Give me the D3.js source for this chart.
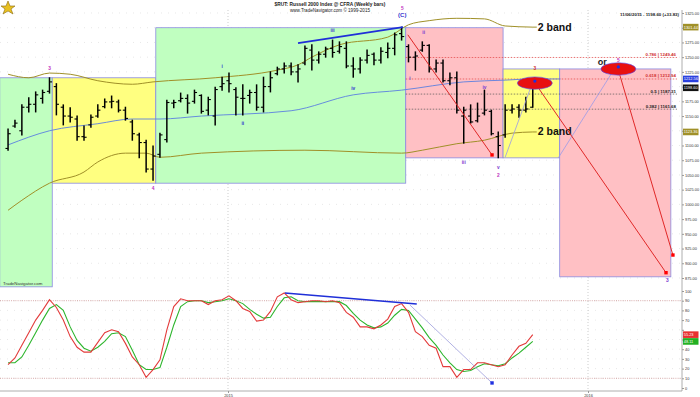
<!DOCTYPE html>
<html>
<head>
<meta charset="utf-8">
<script src="https://cdnjs.cloudflare.com/ajax/libs/d3/7.8.5/d3.min.js"></script>
<style>
body{margin:0;background:#fff}
svg{display:block;font-family:"Liberation Sans",Arial,sans-serif}
</style>
</head>
<body>
<svg id="chart" width="700" height="397"></svg>
<script>
// weekly bars, first bar = week ending 2014-05-23
firstWeek = "2014-05-23";
opens  = [1095,1133,1125,1165,1170,1180,1192,1200,1165,1150,1145,1115,1135,1150,1166,1174,1174,1160,1140,1118,1105,1060,1085,1110,1172,1176,1180,1175,1185,1160,1150,1200,1210,1195,1180,1185,1190,1165,1200,1222,1230,1235,1225,1240,1262,1245,1255,1265,1260,1265,1235,1230,1245,1255,1245,1258,1265,1290,1268,1250,1262,1270,1230,1240,1210,1215,1150,1150,1142,1155,1158,1115,1118,1160,1165,1160,1165];
highs  = [1128,1143,1169,1181,1191,1194,1215,1205,1169,1164,1150,1133,1152,1169,1179,1184,1177,1165,1143,1121,1109,1099,1121,1177,1177,1189,1186,1194,1186,1182,1199,1216,1223,1198,1203,1194,1203,1216,1225,1233,1240,1240,1237,1269,1271,1259,1267,1279,1276,1276,1249,1249,1262,1257,1266,1274,1291,1301,1271,1259,1276,1271,1245,1245,1223,1225,1165,1169,1172,1194,1160,1123,1169,1169,1169,1182,1199];
lows   = [1092,1131,1118,1157,1157,1172,1189,1152,1135,1140,1109,1109,1131,1148,1164,1164,1157,1143,1109,1079,1055,1041,1080,1106,1164,1174,1155,1172,1155,1152,1135,1194,1191,1152,1152,1172,1160,1157,1191,1220,1223,1220,1208,1237,1228,1240,1250,1250,1257,1232,1216,1223,1240,1237,1240,1249,1254,1279,1242,1228,1260,1225,1225,1208,1203,1155,1104,1138,1140,1152,1118,1079,1114,1155,1148,1157,1165];
closes = [1120,1138,1165,1170,1186,1190,1208,1170,1150,1148,1115,1114,1148,1160,1174,1175,1160,1146,1120,1105,1060,1082,1118,1173,1173,1180,1172,1190,1158,1178,1195,1205,1205,1182,1180,1190,1165,1200,1215,1230,1235,1225,1230,1265,1245,1255,1264,1258,1268,1235,1230,1245,1253,1245,1260,1265,1288,1285,1250,1252,1270,1230,1240,1210,1215,1160,1160,1140,1150,1160,1120,1100,1160,1162,1160,1162,1198];

// slow stochastic (%K red, %D green)
stochK = [24,31,44,57,70,80,91,83,70,53,42,37,37,47,57,60,58,46,32,24,11,19,29,60,84,92,90,90,90,86,90,91,95,90,82,79,69,70,79,94,98,91,88,89,90,90,89,90,88,78,73,63,63,61,65,71,84,87,78,58,53,44,41,22,22,11,19,19,26,26,24,22,24,34,43,46,55];
stochD = [26,26,32,44,57,70,82,86,80,63,49,41,38,42,48,56,57,53,39,24,19,19,21,42,65,84,89,90,90,88,89,90,92,90,87,81,76,72,73,84,93,94,90,89,89,89,89,89,89,85,77,70,65,62,63,67,75,81,80,71,62,52,44,34,26,19,17,18,22,25,24,23,25,31,36,42,48];

// moving average and bands, [week index, price]
maPts    = [[0,1101],[6,1125],[13,1137],[18,1145],[22,1145],[28,1150],[41,1159],[50,1186],[57,1194],[66,1208],[72,1211],[76,1213],[80,1213]];
upperPts = [[0,1221],[3,1215],[6,1223],[9,1221],[13,1210],[18,1204],[21,1208],[30,1215],[39,1228],[42,1237],[44,1250],[48,1271],[55,1284],[58,1305],[61,1312],[65,1316],[69,1315],[72,1303],[76,1301]];
lowerPts = [[0,990],[2,1007],[6,1036],[11,1055],[13,1072],[17,1087],[20,1087],[22,1080],[28,1087],[43,1092],[57,1087],[60,1092],[65,1103],[69,1109],[73,1121],[76,1123]];

// wave boxes: [from week, to week, top price, bottom price, kind]
waveBoxes = [[-1.2,6.4,1215,860,"g"],[6.4,21.4,1215,1036,"y"],[21.4,57.6,1300,1036,"g"],[57.6,71.7,1300,1079,"p"],[71.7,79.9,1230,1079,"y"],[79.9,96,1230,877,"p"]];

fibLevels = [0.786,0.618,0.5,0.382];
fibPrices = [1249.46,1212.94,1187.31,1161.68];

priceTicks = d3.range(875,1326,25);
stochTicks = d3.range(0,101,10);
yearTicks  = ["2015-01-01","2016-01-01"];

BOXFILL={g:"#c0ffc0",y:"#ffff80",p:"#ffc0c4"}
RIGHT=682
FS="3.9px"

svg = d3.select("#chart");
parse = d3.timeParse("%Y-%m-%d");
d0 = parse(firstWeek);
function wk(w){ return new Date(d0.getTime()+w*7*864e5) }

x = d3.scaleTime().domain(yearTicks.map(parse)).range([228,588]);
y = d3.scaleLinear().domain([875,1325]).range([278,13]);
ys = d3.scaleLinear().domain([0,100]).range([388,291]);
xw = function(w){ return x(wk(w)) }

bars = opens.map(function(o,i){ return {i:i,o:o,h:highs[i],l:lows[i],c:closes[i]} })

svg.append("rect").attr("width",700).attr("height",397).attr("fill","#fff")

// grid
svg.append("g").selectAll("line").data(priceTicks).enter().append("line")
  .attr("x1",0).attr("x2",RIGHT).attr("y1",d=>y(d)).attr("y2",d=>y(d))
  .attr("stroke","#d8d8d8").attr("stroke-width",0.6).attr("stroke-dasharray","1,6")
svg.append("g").selectAll("line").data(stochTicks.slice(1,10)).enter().append("line")
  .attr("x1",0).attr("x2",RIGHT).attr("y1",d=>ys(d)).attr("y2",d=>ys(d))
  .attr("stroke","#d8d8d8").attr("stroke-width",0.6).attr("stroke-dasharray","1,6")
svg.append("g").selectAll("line").data(yearTicks).enter().append("line")
  .attr("x1",d=>x(parse(d))).attr("x2",d=>x(parse(d))).attr("y1",10).attr("y2",391)
  .attr("stroke","#b8b8b8").attr("stroke-width",0.7).attr("stroke-dasharray","1,2")

// wave boxes
svg.append("g").selectAll("rect").data(waveBoxes).enter().append("rect")
  .attr("x",d=>xw(d[0])).attr("width",d=>xw(d[1])-xw(d[0]))
  .attr("y",d=>y(d[2])).attr("height",d=>y(d[3])-y(d[2]))
  .attr("fill",d=>BOXFILL[d[4]]).attr("stroke","#8a8ae0").attr("stroke-width",0.8)

// fib lines
fibPrices.forEach(function(p,k){
    var col = k<2 ? "#e04040" : "#555"
    svg.append("line").attr("x1",xw(57.6)).attr("x2",RIGHT-5).attr("y1",y(p)).attr("y2",y(p))
      .attr("stroke",col).attr("stroke-width",0.7).attr("stroke-dasharray","1.5,1.5")
    svg.append("text").attr("x",RIGHT-6).attr("y",y(p)-1.5).attr("text-anchor","end")
      .attr("font-size","4.4px").attr("font-weight","bold").attr("fill",k<2?"#d03030":"#222")
      .text(fibLevels[k]+" | "+p.toFixed(2))
})

// MA + bands
lineW = d3.line().x(d=>xw(d[0])).y(d=>y(d[1])).curve(d3.curveMonotoneX)
svg.append("path").attr("d",lineW(maPts)).attr("fill","none").attr("stroke","#5b7fe0").attr("stroke-width",0.9)
svg.append("path").attr("d",lineW(upperPts)).attr("fill","none").attr("stroke","#a09028").attr("stroke-width",1)
svg.append("path").attr("d",lineW(lowerPts)).attr("fill","none").attr("stroke","#a09028").attr("stroke-width",1)
// band tails to labels
;[upperPts,lowerPts].forEach(function(b){
    var last=b[b.length-1]
    svg.append("line").attr("x1",xw(last[0])).attr("x2",xw(last[0])+4).attr("y1",y(last[1])).attr("y2",y(last[1]))
      .attr("stroke","#a09028").attr("stroke-width",1)
    svg.append("text").attr("x",xw(last[0])+5).attr("y",y(last[1])+3.5)
      .attr("font-size","10.5px").attr("font-weight","bold").attr("fill","#111").text("2 band")
})

// OHLC bars
g_bars = svg.append("g").attr("stroke","#000").attr("stroke-width",1.5)
g_bars.selectAll("line.hl").data(bars).enter().append("line").attr("class","hl")
  .attr("x1",d=>xw(d.i)).attr("x2",d=>xw(d.i)).attr("y1",d=>y(d.h)-0.5).attr("y2",d=>y(d.l)+0.5)
g_bars.selectAll("line.o").data(bars).enter().append("line").attr("class","o")
  .attr("x1",d=>xw(d.i)-2.6).attr("x2",d=>xw(d.i)).attr("y1",d=>y(d.o)).attr("y2",d=>y(d.o)).attr("stroke-width",1.1)
g_bars.selectAll("line.c").data(bars).enter().append("line").attr("class","c")
  .attr("x1",d=>xw(d.i)).attr("x2",d=>xw(d.i)+2.6).attr("y1",d=>y(d.c)).attr("y2",d=>y(d.c)).attr("stroke-width",1.1)

// trend lines and projections
function seg(a,b,col,sw,yy){
    yy = yy||y
    svg.append("line").attr("x1",xw(a[0])).attr("y1",yy(a[1])).attr("x2",xw(b[0])).attr("y2",yy(b[1]))
      .attr("stroke",col).attr("stroke-width",sw)
}
function dot(p,col,yy){
    yy = yy||y
    svg.append("rect").attr("x",xw(p[0])-1.7).attr("y",yy(p[1])-1.7).attr("width",3.4).attr("height",3.4).attr("fill",col)
}
seg([42,1274],[57.2,1301],"#1f2fd8",1.8)
seg([57.9,1288],[70.1,1084],"#e02828",1)
dot([70.1,1084],"#ff0000")
seg([72,1080],[76,1208],"#9a9ae8",0.8)
seg([79.7,1079],[88.2,1237],"#9a9ae8",0.8)
seg([76.8,1198],[95.3,884],"#e02828",1)
dot([95.3,884],"#ff0000")
seg([88.6,1220],[96.3,914],"#e02828",1)
dot([96.3,914],"#ff0000")

// ellipses
;[[76.3,1206],[88.4,1230]].forEach(function(e){
    svg.append("ellipse").attr("cx",xw(e[0])).attr("cy",y(e[1])).attr("rx",17.5).attr("ry",6.2)
      .attr("fill","#e81010").attr("stroke","#5050ff").attr("stroke-width",0.6)
    svg.append("circle").attr("cx",xw(e[0])).attr("cy",y(e[1])-2).attr("r",1.6).attr("fill","#2030e0")
})
svg.append("text").attr("x",xw(85.4)).attr("y",y(1237)).attr("font-size","9px").attr("font-weight","bold").attr("fill","#222").text("or")

// wave labels [week, price, text, colour]
waveLabels = [[6,1228,"3","#c030c0"],[21,1024,"4","#c030c0"],[31,1232,"i","#3535d0"],[34,1135,"ii","#3535d0"],
  [47,1293,"iii","#3535d0"],[50,1194,"iv","#3535d0"],[57.1,1318,"(C)","#3535d0"],[57.1,1330,"5","#c030c0"],
  [58.2,1212,"i","#7a3ad0"],[60.2,1290,"ii","#7a3ad0"],[66,1068,"iii","#7a3ad0"],[69,1196,"iv","#7a3ad0"],
  [71,1060,"v","#7a3ad0"],[71,1046,"2","#c030c0"],[76.3,1228,"3","#d03030"],[88.4,1242,"5","#c030c0"],[95.5,869,"3","#7a3ad0"]]
svg.append("g").selectAll("text").data(waveLabels).enter().append("text")
  .attr("x",d=>xw(d[0])).attr("y",d=>y(d[1])).attr("text-anchor","middle")
  .attr("font-size",d=>d[2]=="(C)"?"6px":"4.8px").attr("font-weight","bold").attr("fill",d=>d[3]).text(d=>d[2])

svg.append("text").attr("x",3).attr("y",285).attr("font-size","4.4px").attr("fill","#333").text("TradeNavigator.com")

// stochastic
svg.append("g").selectAll("line").data([90,10]).enter().append("line")
  .attr("x1",0).attr("x2",RIGHT).attr("y1",d=>ys(d)).attr("y2",d=>ys(d))
  .attr("stroke","#c88a8a").attr("stroke-width",0.7).attr("stroke-dasharray","1,1.2")
lineS = d3.line().x((d,i)=>xw(i)).y(d=>ys(d))
svg.append("path").attr("d",lineS(stochD)).attr("fill","none").attr("stroke","#2cb52c").attr("stroke-width",1.1)
svg.append("path").attr("d",lineS(stochK)).attr("fill","none").attr("stroke","#e33a3a").attr("stroke-width",1.1)
seg([40.1,98],[59.2,86.6],"#1f2fd8",1.6,ys)
seg([58.2,85.6],[70.1,5.2],"#a8a8e0",0.9,ys)
dot([70.1,5.2],"#2030e0",ys)

// value flags on right axis
flags = [[y(1301),"1301.44","#a09028"],[y(1213),"1212.56","#2a40e0"],[y(closes[closes.length-1]),"1198.60","#111"],
  [y(1123),"1123.36","#a09028"],[ys(stochK[stochK.length-1]),"55.23","#e83030"],[ys(stochD[stochD.length-1]),"48.11","#22b022"]]

// axes
svg.append("line").attr("x1",RIGHT).attr("x2",RIGHT).attr("y1",10).attr("y2",391).attr("stroke","#999").attr("stroke-width",0.8)
svg.append("line").attr("x1",0).attr("x2",RIGHT).attr("y1",391).attr("y2",391).attr("stroke","#999").attr("stroke-width",0.8)
ax1 = svg.append("g").attr("transform","translate("+RIGHT+",0)")
  .call(d3.axisRight(y).tickValues(priceTicks).tickFormat(d3.format(".2f")).tickSize(2).tickPadding(1))
ax2 = svg.append("g").attr("transform","translate("+RIGHT+",0)")
  .call(d3.axisRight(ys).tickValues(stochTicks).tickSize(2).tickPadding(1))
ax3 = svg.append("g").attr("transform","translate(0,391)")
  .call(d3.axisBottom(x).tickValues(yearTicks.map(parse)).tickFormat(d3.timeFormat("%Y")).tickSize(2).tickPadding(1))
;[ax1,ax2,ax3].forEach(function(a){
    a.select(".domain").remove()
    a.selectAll("line").attr("stroke","#999")
    a.selectAll("text").attr("font-size",FS).attr("fill","#333").attr("font-family","Liberation Sans, Arial")
})
// flags sit on top of the tick labels, hide the ones underneath
ax1.selectAll(".tick").filter(d=>flags.some(f=>Math.abs(f[0]-y(d))<5.5)).select("text").remove()
ax2.selectAll(".tick").filter(d=>flags.some(f=>Math.abs(f[0]-ys(d))<5.5)).select("text").remove()

g_flags = svg.append("g")
flags.forEach(function(f){
    g_flags.append("rect").attr("x",RIGHT+1).attr("y",f[0]-3.3).attr("width",15.5).attr("height",6.6).attr("fill",f[2])
    g_flags.append("text").attr("x",RIGHT+1.8).attr("y",f[0]+1.4).attr("font-size",FS).attr("fill","#fff").text(f[1])
})

// header
svg.append("text").attr("x",330).attr("y",6).attr("text-anchor","middle").attr("font-size","4.8px").attr("font-weight","bold").attr("fill","#222")
  .text("$RUT: Russell 2000 Index @ CFRA (Weekly bars)")
svg.append("text").attr("x",330).attr("y",12).attr("text-anchor","middle").attr("font-size","4.6px").attr("fill","#222")
  .text("www.TradeNavigator.com \u00A9 1999-2015")
svg.append("text").attr("x",RIGHT-3).attr("y",15.5).attr("text-anchor","end").attr("font-size","4.4px").attr("font-weight","bold").attr("fill","#222")
  .text("11/06/2015 - 1198.60 (+33.83)")

// little logo
svg.append("path").attr("d","M8,1 L10,6 L15,6 L11,9 L13,14 L8,11 L3,14 L5,9 L1,6 L6,6 Z")
  .attr("fill","#e8c020").attr("stroke","#8a6a10").attr("stroke-width",0.6)
</script>
</body>
</html>
